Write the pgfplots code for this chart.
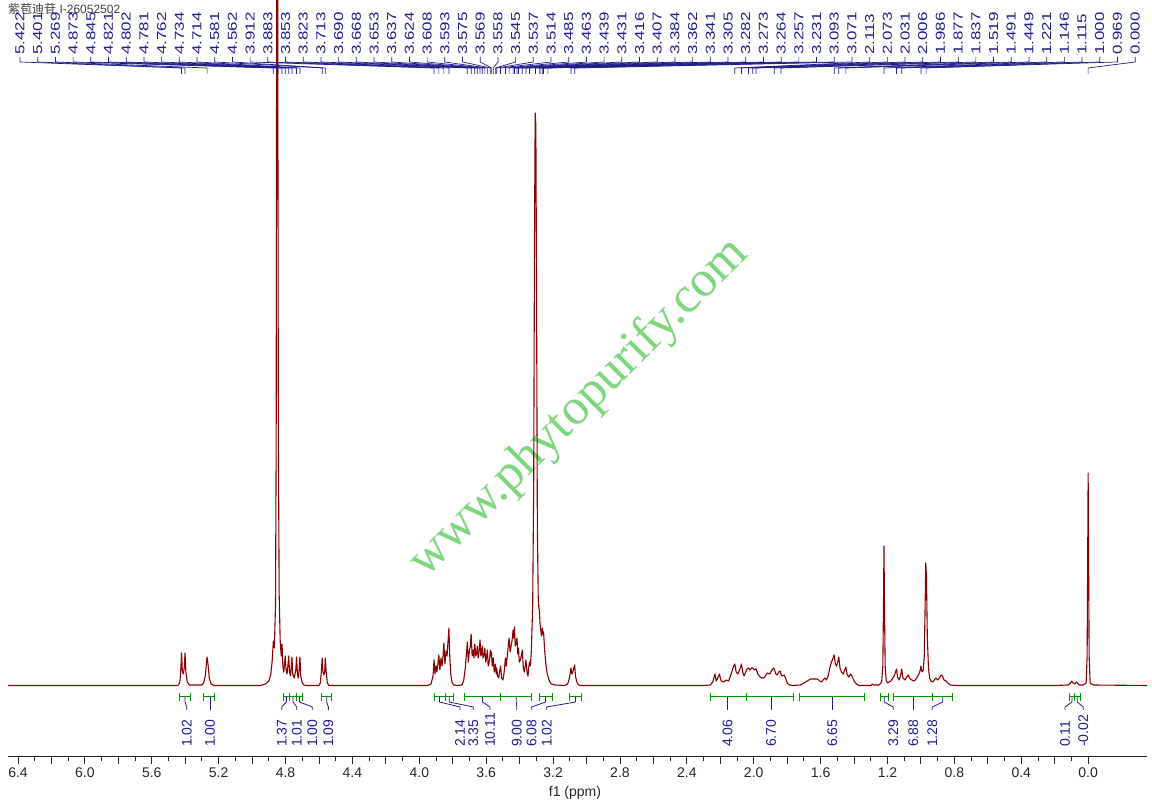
\documentclass[border=0pt]{standalone}
\usepackage{fontspec}
\setmainfont{Liberation Sans}
\newfontfamily\cjk{Noto Sans CJK SC}
\newfontfamily\wmfont{Liberation Serif}
\usepackage{graphicx}
\usepackage{pgfplots}
\pgfplotsset{compat=1.18}
\definecolor{spec}{RGB}{139,0,0}
\definecolor{navyc}{RGB}{30,30,140}
\definecolor{intg}{RGB}{0,150,0}
\definecolor{wm}{RGB}{125,215,125}
\newcommand\tl[1]{\scalebox{1.3}[1]{#1}}
\newcommand\toplabelfont{\fontsize{13}{13}\selectfont}
\newcommand\intfont{\fontsize{14}{14}\selectfont}
\newcommand\ig[5]{%
 \draw[intg,line width=1pt] (axis cs:#1,-11) -- (axis cs:#2,-11);
 \draw[intg,line width=1pt] (axis cs:#1,-15) -- (axis cs:#1,-7);
 \draw[intg,line width=1pt] (axis cs:#2,-15) -- (axis cs:#2,-7);
 \draw[navyc,line width=0.8pt] (axis cs:#3,-11) -- (axis cs:#3,-16) -- (axis cs:#4,-21) -- (axis cs:#4,-24);
 \node[rotate=90,anchor=west,inner sep=0pt,text=navyc,font=\intfont] at (axis cs:#4,-61) {#5};}
\begin{document}
\begin{tikzpicture}[x=1pt,y=1pt]
\node[rotate=45,anchor=base,text=wm,font=\fontsize{51}{51}\selectfont\wmfont] at (588,391) {www.phytopurify.com};
\node[anchor=north west,inner sep=0pt,text=black!75,font=\fontsize{12}{13}\selectfont] at (8,805) {{\cjk 紫苞迪苷} I-26052502};
\begin{axis}[
  at={(8pt,51pt)}, anchor=south west, scale only axis,
  width=1139pt, height=757pt,
  xmin=-0.352, xmax=6.46, x dir=reverse,
  ymin=-71, ymax=686,
  axis y line=none, axis x line*=bottom,
  clip mode=individual,
  axis line style={black!85,line width=1pt},
  xtick={0,0.4,0.8,1.2,1.6,2.0,2.4,2.8,3.2,3.6,4.0,4.4,4.8,5.2,5.6,6.0,6.4},
  minor x tick num=3,
  extra x ticks={0.2,0.6,1.0,1.4,1.8,2.2,2.6,3.0,3.4,3.8,4.2,4.6,5.0,5.4,5.8,6.2},
  extra x tick labels={},
  tick align=outside,
  major tick length=7pt, minor tick length=4pt,
  tick style={black!85,line width=0.9pt},
  xticklabel style={font=\fontsize{14}{16}\selectfont,text=black!85,/pgf/number format/fixed,/pgf/number format/fixed zerofill,/pgf/number format/precision=1},
  /pgf/number format/assume math mode=true,
]
\addplot[spec,line width=1.1pt,line join=round,no marks] coordinates {
(6.46,0.5)(5.45,0.5)(5.44,1)(5.432,4)(5.426,18)(5.422,33)(5.417,14)(5.411,12)(5.406,18)(5.401,33)(5.396,14)(5.388,4)(5.375,1)
(5.30,1)(5.29,3)(5.280,10)(5.272,25)(5.269,29)(5.264,22)(5.256,8)(5.245,2)(5.23,0.5)
(4.95,0.5)(4.92,2)(4.90,5)(4.888,12)(4.880,25)(4.873,45)(4.867,38)(4.860,80)(4.856,250)(4.853,700)(4.850,1200)(4.847,700)(4.843,250)(4.838,90)(4.832,45)(4.826,30)(4.821,42)(4.816,20)(4.811,14)(4.806,22)(4.802,30)(4.797,16)(4.791,12)(4.786,20)(4.781,30)(4.776,14)(4.771,10)(4.766,18)(4.762,29)(4.757,12)(4.748,8)(4.739,16)(4.734,29)(4.729,12)(4.724,8)(4.719,16)(4.714,29)(4.709,10)(4.700,3)(4.69,1)(4.67,0.5)
(4.60,0.5)(4.592,3)(4.586,14)(4.581,28)(4.576,14)(4.571,11)(4.566,14)(4.562,28)(4.557,14)(4.550,3)(4.54,0.5)
(3.95,0.5)(3.93,2)(3.918,10)(3.912,26)(3.906,12)(3.900,20)(3.895,14)(3.889,22)(3.883,31)(3.877,16)(3.870,28)(3.864,20)(3.858,30)(3.853,43)(3.847,22)(3.840,35)(3.834,30)(3.828,45)(3.823,58)(3.818,30)(3.812,12)(3.805,4)(3.795,1)(3.77,0.5)
(3.745,1)(3.735,5)(3.725,18)(3.719,30)(3.713,44)(3.707,24)(3.700,36)(3.695,40)(3.690,52)(3.684,30)(3.678,36)(3.673,28)(3.668,42)(3.662,30)(3.657,33)(3.653,40)(3.648,28)(3.642,35)(3.637,46)(3.632,30)(3.628,32)(3.624,40)(3.619,28)(3.614,30)(3.608,38)(3.603,24)(3.598,28)(3.593,36)(3.588,20)(3.584,22)(3.579,28)(3.575,36)(3.572,30)(3.569,34)(3.564,20)(3.558,28)(3.552,14)(3.548,18)(3.545,22)(3.540,12)(3.537,18)(3.532,10)(3.525,8)(3.520,14)(3.514,20)(3.508,8)(3.500,6)(3.494,12)(3.490,18)(3.485,28)(3.480,20)(3.474,30)(3.468,40)(3.463,48)(3.457,34)(3.451,40)(3.445,46)(3.439,56)(3.435,48)(3.431,59)(3.426,40)(3.421,42)(3.416,48)(3.411,32)(3.407,38)(3.402,24)(3.396,26)(3.390,30)(3.384,36)(3.378,18)(3.372,14)(3.367,20)(3.362,26)(3.356,14)(3.350,10)(3.346,18)(3.341,24)(3.336,20)(3.330,35)(3.322,80)(3.316,200)(3.311,450)(3.307,573)(3.303,560)(3.299,400)(3.294,160)(3.289,90)(3.285,78)(3.282,76)(3.278,62)(3.273,55)(3.269,50)(3.264,58)(3.260,52)(3.257,54)(3.250,35)(3.242,20)(3.235,12)(3.231,10)(3.222,5)(3.210,2)(3.19,1)
(3.13,0.5)(3.115,2)(3.108,4)(3.100,10)(3.093,18)(3.088,12)(3.082,14)(3.076,18)(3.071,21)(3.066,10)(3.060,5)(3.052,2)(3.04,0.5)
(2.30,0.5)(2.26,1)(2.245,4)(2.232,12)(2.224,5)(2.215,8)(2.205,12)(2.195,5)(2.180,4)(2.165,6)(2.150,5)(2.135,12)(2.120,20)(2.113,22)(2.105,14)(2.095,12)(2.085,16)(2.073,22)(2.066,14)(2.058,10)(2.048,14)(2.040,17)(2.031,18)(2.022,16)(2.013,18)(2.006,18)(1.998,16)(1.986,17)(1.975,12)(1.962,9)(1.950,8)(1.940,8)(1.930,10)(1.920,13)(1.905,12)(1.890,16)(1.882,18)(1.877,17)(1.868,12)(1.860,11)(1.850,14)(1.842,15)(1.835,11)(1.828,10)(1.818,11)(1.810,8)(1.800,3)(1.785,1)(1.77,0.5)
(1.72,1)(1.70,3)(1.68,5)(1.66,7)(1.64,7)(1.62,7)(1.605,5)(1.595,4)(1.585,6)(1.575,8)(1.565,6)(1.555,10)(1.545,18)(1.535,24)(1.525,28)(1.519,31)(1.512,22)(1.505,20)(1.498,24)(1.491,29)(1.484,18)(1.475,14)(1.465,12)(1.456,16)(1.449,19)(1.442,12)(1.432,9)(1.420,12)(1.412,10)(1.400,5)(1.385,2)(1.37,0.5)
(1.30,0.5)(1.29,2)(1.282,1)(1.25,1)(1.235,4)(1.228,20)(1.224,80)(1.221,140)(1.218,80)(1.214,20)(1.208,6)(1.20,3)(1.19,4)(1.180,5)(1.160,10)(1.152,14)(1.146,17)(1.140,9)(1.130,6)(1.120,12)(1.115,17)(1.108,8)(1.095,6)(1.085,9)(1.075,11)(1.068,8)(1.055,6)(1.040,5)(1.025,8)(1.012,12)(1.004,16)(1.000,20)(0.994,14)(0.986,16)(0.980,30)(0.975,80)(0.971,123)(0.967,110)(0.962,50)(0.955,18)(0.948,8)(0.940,5)(0.930,4)(0.920,6)(0.910,8)(0.900,6)(0.890,8)(0.880,11)(0.872,10)(0.862,6)(0.850,5)(0.840,3)(0.825,1)(0.80,0.5)
(0.20,0.5)(0.12,1)(0.105,3)(0.098,5)(0.090,3)(0.080,2)(0.070,4)(0.064,3)(0.055,1)(0.03,1)(0.012,3)(0.006,30)(0.003,120)(0.000,213)(-0.003,120)(-0.006,30)(-0.012,3)(-0.03,1)(-0.352,0.5)
};
% peak picking labels
\foreach \p [count=\i] in {5.422,5.401,5.269,4.873,4.845,4.821,4.802,4.781,4.762,4.734,4.714,4.581,4.562,3.912,3.883,3.853,3.823,3.713,3.690,3.668,3.653,3.637,3.624,3.608,3.593,3.575,3.569,3.558,3.545,3.537,3.514,3.485,3.463,3.439,3.431,3.416,3.407,3.384,3.362,3.341,3.305,3.282,3.273,3.264,3.257,3.231,3.093,3.071,2.113,2.073,2.031,2.006,1.986,1.877,1.837,1.519,1.491,1.449,1.221,1.146,1.115,1.000,0.969,0.000} {
  \pgfmathsetmacro\lx{6.4-(2+(\i-1)*17.7)/167.2}
  \edef\tmp{\noexpand\draw[navyc,line width=0.7pt] (axis cs:\lx,629) -- (axis cs:\lx,624) -- (axis cs:\p,618) -- (axis cs:\p,612);
  \noexpand\node[rotate=90,anchor=west,inner sep=0pt,text=navyc,font=\noexpand\toplabelfont] at (axis cs:\lx,631) {\noexpand\tl{\p}};}
  \tmp
}
% integrals
\ig{5.435}{5.367}{5.401}{5.391}{1.02}
\ig{5.292}{5.222}{5.252}{5.252}{1.00}
\ig{4.813}{4.777}{4.795}{4.823}{1.37}
\ig{4.777}{4.733}{4.755}{4.733}{1.01}
\ig{4.733}{4.700}{4.716}{4.640}{1.00}
\ig{4.584}{4.524}{4.554}{4.544}{1.09}
\ig{3.912}{3.846}{3.879}{3.757}{2.14}
\ig{3.846}{3.796}{3.821}{3.677}{3.35}
\ig{3.727}{3.517}{3.622}{3.577}{10.11}
\ig{3.517}{3.328}{3.420}{3.417}{9.00}
\ig{3.284}{3.206}{3.245}{3.328}{6.08}
\ig{3.103}{3.029}{3.066}{3.238}{1.02}
\ig{2.257}{2.046}{2.156}{2.156}{4.06}
\ig{2.046}{1.763}{1.896}{1.896}{6.70}
\ig{1.729}{1.340}{1.530}{1.530}{6.65}
\ig{1.244}{1.195}{1.220}{1.165}{3.29}
\ig{1.165}{0.929}{1.045}{1.045}{6.88}
\ig{0.929}{0.810}{0.870}{0.932}{1.28}
\ig{0.112}{0.082}{0.097}{0.138}{0.11}
\ig{0.082}{0.048}{0.065}{0.029}{-0.02}
\end{axis}
\node[font=\fontsize{14}{16}\selectfont,text=black!85] at (575,15) {f1 (ppm)};
\pgfresetboundingbox
\useasboundingbox (0,0) rectangle (1152,808);
\end{tikzpicture}
\end{document}
